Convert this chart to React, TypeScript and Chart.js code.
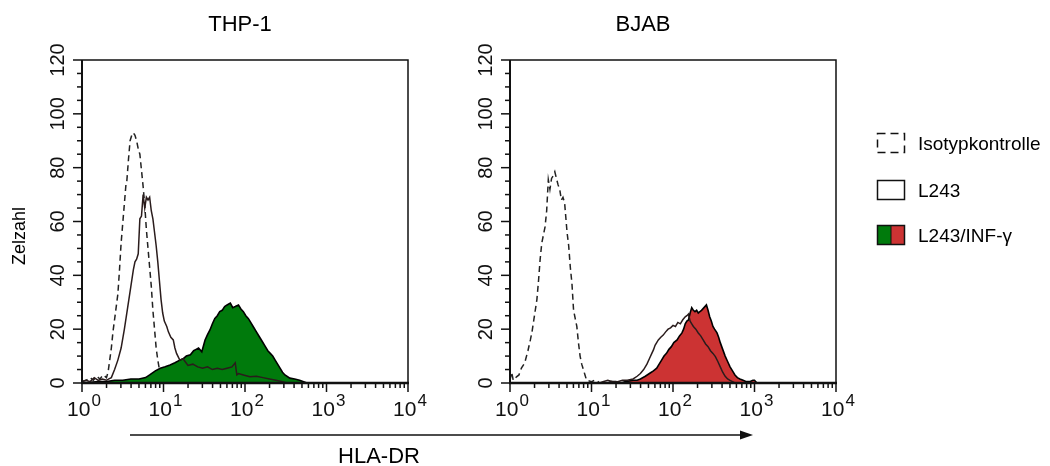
import React, { useEffect, useRef } from "react";
import { Chart, registerables } from "chart.js";

Chart.register(...registerables);

// ---------- data (x given in decades: value = 10^dec) ----------
const thpIsoDec = [0.0, 0.05, 0.1, 0.14, 0.18, 0.22, 0.26, 0.3, 0.32, 0.34, 0.36, 0.38, 0.41, 0.44, 0.46, 0.48, 0.51, 0.54, 0.55, 0.57, 0.59, 0.61, 0.63, 0.65, 0.67, 0.69, 0.71, 0.73, 0.75, 0.77, 0.79, 0.81, 0.83, 0.85, 0.87, 0.89, 0.91, 0.93, 0.95, 0.97, 1.0, 1.05, 1.2, 4.0];
const thpIsoCount = [0.5, 1, 2, 1, 2.5, 1.5, 3, 2, 4, 8.5, 13, 19, 26, 33, 42, 52, 63, 74, 75, 83, 90, 92, 93, 92, 90, 87, 85, 79, 73, 66, 57, 50, 43, 36, 27, 20, 13, 8.5, 5, 3, 1, 0, 0, 0];

const thpL243Dec = [0.0, 0.05, 0.1, 0.15, 0.2, 0.25, 0.3, 0.33, 0.36, 0.4, 0.44, 0.48, 0.52, 0.56, 0.6, 0.63, 0.65, 0.67, 0.69, 0.71, 0.73, 0.75, 0.77, 0.79, 0.81, 0.83, 0.85, 0.87, 0.89, 0.91, 0.93, 0.95, 0.97, 0.99, 1.01, 1.04, 1.06, 1.09, 1.12, 1.14, 1.16, 1.2, 1.24, 1.3, 1.36, 1.42, 1.48, 1.54, 1.6, 1.66, 1.72, 1.78, 1.84, 1.88, 1.9, 1.92, 1.98, 2.06, 2.14, 2.22, 2.3, 2.38, 2.46, 2.52, 4.0];
const thpL243Count = [0.5, 1, 0.5, 2, 1, 1.5, 1, 1.5, 2, 5, 8.5, 13, 20, 28, 36, 42, 45, 46, 48, 61, 62, 70, 65, 69, 68, 69, 64, 61, 56, 51, 45, 38, 31, 26, 23, 21, 19, 17, 16, 13, 11, 8.5, 9, 6.5, 7, 6, 5.5, 6, 5, 5.5, 5, 5.5, 6, 7.5, 3, 3.5, 3, 2.3, 2.5, 2, 1.5, 1, 0.5, 0, 0];

const thpInfDec = [0.0, 0.1, 0.2, 0.3, 0.4, 0.5, 0.6, 0.7, 0.78, 0.83, 0.9, 0.96, 1.02, 1.08, 1.14, 1.2, 1.24, 1.28, 1.33, 1.37, 1.4, 1.43, 1.47, 1.51, 1.54, 1.57, 1.6, 1.63, 1.66, 1.69, 1.72, 1.75, 1.78, 1.82, 1.85, 1.88, 1.92, 1.95, 1.98, 2.01, 2.04, 2.07, 2.1, 2.14, 2.18, 2.21, 2.25, 2.28, 2.31, 2.34, 2.37, 2.4, 2.43, 2.46, 2.49, 2.55, 2.61, 2.67, 2.72, 2.76, 4.0];
const thpInfCount = [0, 0.3, 0.5, 0.5, 1, 1, 1.5, 1.5, 2, 3, 4.5, 5.5, 6, 6.7, 7.5, 8.5, 9, 10, 10.5, 12, 12.5, 13, 11.6, 16, 18, 19.7, 22, 24, 25, 26.5, 27, 28.4, 29, 29.7, 28, 28.4, 29, 27.5, 26.5, 25, 24, 22.5, 21, 19, 17, 15.5, 13.5, 12, 11, 10, 8.5, 7, 5.5, 4, 3, 1.8, 1.5, 1, 0.5, 0, 0];

const bjabIsoDec = [0.0, 0.02, 0.04, 0.08, 0.11, 0.14, 0.18, 0.22, 0.25, 0.27, 0.29, 0.33, 0.35, 0.37, 0.39, 0.41, 0.43, 0.45, 0.47, 0.49, 0.51, 0.53, 0.55, 0.57, 0.59, 0.61, 0.63, 0.65, 0.67, 0.7, 0.72, 0.74, 0.76, 0.78, 0.8, 0.82, 0.84, 0.86, 0.88, 0.9, 0.92, 0.94, 1.0, 1.04, 1.06, 1.1, 4.0];
const bjabIsoCount = [1, 4, 1, 2.3, 3, 5.5, 7.4, 12, 16, 19, 23, 31, 38, 46, 52, 55, 58, 64, 75.5, 72, 76, 77, 78.5, 76, 73.6, 72, 68, 69, 67, 56, 51, 43, 37, 27, 24, 21, 15, 10, 7, 5, 3, 1, 0.5, 1, 1, 0, 0];

const bjabL243Dec = [0.0, 1.1, 1.14, 1.2, 1.26, 1.32, 1.38, 1.44, 1.51, 1.56, 1.6, 1.64, 1.68, 1.71, 1.74, 1.76, 1.78, 1.8, 1.82, 1.85, 1.88, 1.91, 1.94, 1.97, 2.0, 2.03, 2.06, 2.09, 2.12, 2.15, 2.17, 2.19, 2.21, 2.23, 2.25, 2.28, 2.31, 2.34, 2.37, 2.4, 2.43, 2.46, 2.49, 2.52, 2.55, 2.58, 2.61, 2.64, 2.67, 2.7, 2.73, 2.76, 4.0];
const bjabL243Count = [0, 0, 0.5, 1, 0.5, 0.5, 1, 1, 1.5, 2.5, 3.5, 5, 7, 9, 11, 12.3, 14, 15, 16, 17, 17.8, 19, 20, 20.5, 21.4, 21, 22.5, 22, 23.5, 24.6, 25, 25.6, 23, 22, 21, 20, 18.6, 17.5, 16, 14.5, 13.5, 12, 11, 9.8, 8, 6, 4, 2.5, 1.5, 1, 0.5, 0, 0];

const bjabInfDec = [0.0, 1.2, 1.24, 1.3, 1.36, 1.42, 1.51, 1.56, 1.6, 1.66, 1.72, 1.76, 1.8, 1.83, 1.86, 1.89, 1.92, 1.95, 1.98, 2.01, 2.05, 2.08, 2.11, 2.13, 2.15, 2.17, 2.19, 2.21, 2.23, 2.25, 2.27, 2.29, 2.31, 2.33, 2.35, 2.38, 2.41, 2.43, 2.45, 2.47, 2.49, 2.51, 2.54, 2.56, 2.58, 2.61, 2.64, 2.67, 2.7, 2.73, 2.76, 2.79, 2.82, 2.86, 2.9, 2.94, 2.98, 3.0, 3.03, 4.0];
const bjabInfCount = [0, 0, 0.5, 0.5, 0, 0.5, 1, 1, 1.5, 2.5, 3.7, 4.5, 5.5, 7, 8.5, 10, 11, 12.5, 13.5, 15, 16, 17.5, 18.6, 20, 22, 23, 23.4, 26, 28, 27, 26.5, 27, 26, 26.5, 27, 28, 29, 27, 24.6, 23, 21, 20, 18.6, 17, 15, 12.5, 10, 8, 6, 4.5, 3, 2, 1.5, 1, 0.5, 0.5, 1, 1, 0, 0];

const panelTitles = ["THP-1", "BJAB"];
const legendLabels = ["Isotypkontrolle", "L243", "L243/INF-\u03b3"];
const yAxisTitle = "Zelzahl";
const xAxisTitle = "HLA-DR";
const yMajorTicks = [0, 20, 40, 60, 80, 100, 120];
const yMinorTicks = [5, 10, 15, 25, 30, 35, 45, 50, 55, 65, 70, 75, 85, 90, 95, 105, 110, 115];
const xDecades = [0, 1, 2, 3, 4];
const xMinorMultipliers = [2, 3, 4, 5, 6, 7, 8, 9];

// ---------- styles ----------
const GREEN = "#007a0c";
const RED = "#cc3333";
const FONT = "'Liberation Sans', Arial, Helvetica, sans-serif";

const toPoints = (dec: number[], cnt: number[]) =>
  dec.map((d, i) => ({ x: Math.pow(10, d), y: cnt[i] }));

const framePlugin = {
  id: "frame",
  afterDraw(chart: any) {
    const { ctx, chartArea: a, scales } = chart;
    const xs = scales.x;
    const ys = scales.y;
    ctx.save();
    ctx.strokeStyle = "#111";
    ctx.fillStyle = "#111";
    // box
    ctx.lineWidth = 1.5;
    ctx.beginPath();
    ctx.moveTo(a.left, a.top);
    ctx.lineTo(a.right, a.top);
    ctx.lineTo(a.right, a.bottom);
    ctx.stroke();
    ctx.lineWidth = 2;
    ctx.beginPath();
    ctx.moveTo(a.left, a.top);
    ctx.lineTo(a.left, a.bottom);
    ctx.stroke();
    ctx.lineWidth = 2.5;
    ctx.beginPath();
    ctx.moveTo(a.left - 1, a.bottom);
    ctx.lineTo(a.right + 1, a.bottom);
    ctx.stroke();

    // y ticks
    ctx.lineWidth = 1.5;
    const yTick = (v: number, len: number) => {
      const y = ys.getPixelForValue(v);
      ctx.beginPath();
      ctx.moveTo(a.left - len, y);
      ctx.lineTo(a.left, y);
      ctx.stroke();
    };
    yMajorTicks.forEach((v) => yTick(v, 9));
    yMinorTicks.forEach((v) => yTick(v, 5));

    // y labels, rotated
    ctx.font = `20px ${FONT}`;
    ctx.textAlign = "center";
    ctx.textBaseline = "middle";
    yMajorTicks.forEach((v) => {
      const y = ys.getPixelForValue(v);
      ctx.save();
      ctx.translate(a.left - 25, y);
      ctx.rotate(-Math.PI / 2);
      ctx.fillText(String(v), 0, 1);
      ctx.restore();
    });

    // x ticks
    const xTick = (v: number, len: number) => {
      const x = xs.getPixelForValue(v);
      ctx.beginPath();
      ctx.moveTo(x, a.bottom);
      ctx.lineTo(x, a.bottom + len);
      ctx.stroke();
    };
    xDecades.forEach((k) => {
      xTick(Math.pow(10, k), 9);
      if (k < 4) xMinorMultipliers.forEach((m) => xTick(m * Math.pow(10, k), 5));
    });

    // x labels: 10^k
    xDecades.forEach((k) => {
      const x = xs.getPixelForValue(Math.pow(10, k));
      ctx.font = `21px ${FONT}`;
      const w1 = ctx.measureText("10").width;
      ctx.font = `17px ${FONT}`;
      const w2 = ctx.measureText(String(k)).width;
      const total = w1 + 1 + w2;
      const x0 = x + 2 - total / 2;
      ctx.textAlign = "left";
      ctx.textBaseline = "alphabetic";
      ctx.font = `21px ${FONT}`;
      ctx.fillText("10", x0, a.bottom + 33);
      ctx.font = `17px ${FONT}`;
      ctx.fillText(String(k), x0 + w1 + 1, a.bottom + 23);
    });
    ctx.restore();
  },
};

function buildChart(canvas: HTMLCanvasElement, sets: any, fillColor: string, padding: any) {
  return new Chart(canvas, {
    type: "line",
    data: {
      datasets: [
        {
          label: legendLabels[1],
          data: toPoints(sets.l243[0], sets.l243[1]),
          borderColor: "#2a1c1c",
          borderWidth: 1.5,
          pointRadius: 0,
          fill: false,
          tension: 0,
        },
        {
          label: legendLabels[2],
          data: toPoints(sets.inf[0], sets.inf[1]),
          borderColor: "#000",
          borderWidth: 1.6,
          backgroundColor: fillColor,
          pointRadius: 0,
          fill: "origin",
          tension: 0,
        },
        {
          label: legendLabels[0],
          data: toPoints(sets.iso[0], sets.iso[1]),
          borderColor: "#222",
          borderWidth: 1.5,
          borderDash: [6, 4],
          pointRadius: 0,
          fill: false,
          tension: 0,
        },
      ],
    },
    options: {
      responsive: false,
      maintainAspectRatio: false,
      animation: false,
      devicePixelRatio: 1,
      layout: { padding },
      plugins: { legend: { display: false }, tooltip: { enabled: false }, title: { display: false } },
      scales: {
        x: { type: "logarithmic", min: 1, max: 10000, display: false },
        y: { type: "linear", min: 0, max: 120, display: false },
      },
    },
    plugins: [framePlugin],
  } as any);
}

export default function App() {
  const leftRef = useRef<HTMLCanvasElement>(null);
  const rightRef = useRef<HTMLCanvasElement>(null);

  useEffect(() => {
    const c1 = buildChart(
      leftRef.current!,
      { iso: [thpIsoDec, thpIsoCount], l243: [thpL243Dec, thpL243Count], inf: [thpInfDec, thpInfCount] },
      GREEN,
      { left: 82, right: 52, top: 60, bottom: 83 }
    );
    const c2 = buildChart(
      rightRef.current!,
      { iso: [bjabIsoDec, bjabIsoCount], l243: [bjabL243Dec, bjabL243Count], inf: [bjabInfDec, bjabInfCount] },
      RED,
      { left: 50, right: 64, top: 60, bottom: 83 }
    );
    return () => {
      c1.destroy();
      c2.destroy();
    };
  }, []);

  const textStyle = { fontFamily: FONT, fill: "#000" } as any;

  return (
    <div style={{ position: "absolute", left: 0, top: 0, width: 1050, height: 466, background: "#fff", overflow: "hidden" }}>
      <canvas ref={leftRef} width={460} height={466} style={{ position: "absolute", left: 0, top: 0, width: 460, height: 466 }} />
      <canvas ref={rightRef} width={440} height={466} style={{ position: "absolute", left: 460, top: 0, width: 440, height: 466 }} />
      <svg width={1050} height={466} style={{ position: "absolute", left: 0, top: 0 }}>
        <text x={240} y={23} textAnchor="middle" dominantBaseline="central" fontSize={22} style={textStyle}>{panelTitles[0]}</text>
        <text x={643} y={23} textAnchor="middle" dominantBaseline="central" fontSize={22} style={textStyle}>{panelTitles[1]}</text>
        <text x={0} y={0} transform="translate(19,236) rotate(-90)" textAnchor="middle" dominantBaseline="central" fontSize={18} style={textStyle}>{yAxisTitle}</text>

        {/* legend */}
        <rect x={877.5} y={133.5} width={27} height={19} fill="#fff" stroke="#111" strokeWidth={1.5} strokeDasharray="8,5" />
        <text x={918} y={143} dominantBaseline="central" fontSize={19} style={textStyle}>{legendLabels[0]}</text>
        <rect x={877.5} y={180.5} width={27} height={19} fill="#fff" stroke="#111" strokeWidth={1.5} />
        <text x={918} y={190} dominantBaseline="central" fontSize={19} style={textStyle}>{legendLabels[1]}</text>
        <rect x={877.5} y={225.5} width={13.5} height={19} fill={GREEN} />
        <rect x={891} y={225.5} width={13.5} height={19} fill={RED} />
        <rect x={877.5} y={225.5} width={27} height={19} fill="none" stroke="#111" strokeWidth={1.5} />
        <line x1={891} y1={225.5} x2={891} y2={244.5} stroke="#111" strokeWidth={1} />
        <text x={918} y={235} dominantBaseline="central" fontSize={19} style={textStyle}>{legendLabels[2]}</text>

        {/* x-axis arrow */}
        <line x1={130} y1={435} x2={742} y2={435} stroke="#111" strokeWidth={1.6} />
        <polygon points="740,430.5 753,435 740,439.5" fill="#111" />
        <text x={379} y={455} textAnchor="middle" dominantBaseline="central" fontSize={22} style={textStyle}>{xAxisTitle}</text>
      </svg>
    </div>
  );
}
